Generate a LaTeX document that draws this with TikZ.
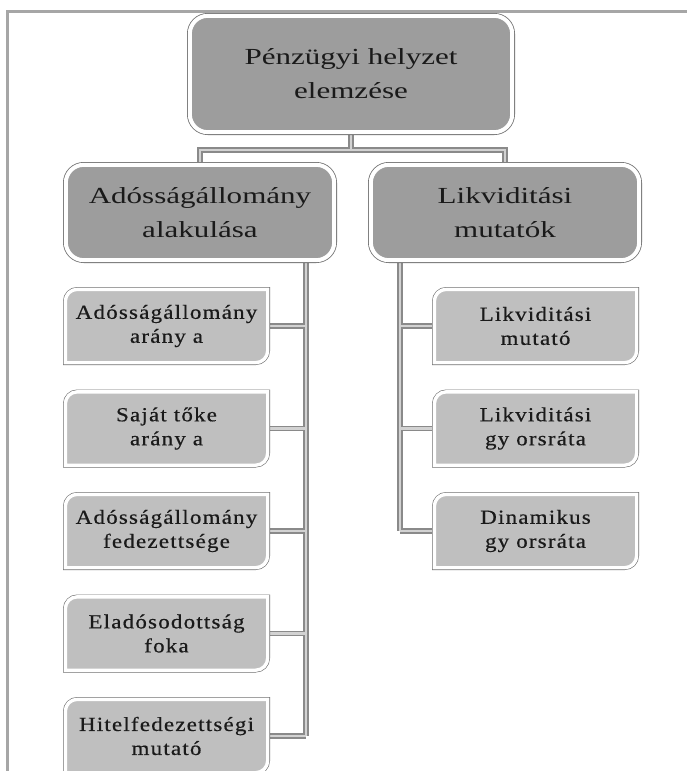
\documentclass[tikz,border=0pt]{standalone}
\usepackage{fontspec}
\setmainfont{Liberation Serif}
\newfontfamily\headfont[FakeStretch=1.35]{Liberation Serif}
\newfontfamily\leaffont[FakeStretch=1.15,LetterSpace=6,FakeBold=0.5]{Liberation Serif}

\definecolor{framegray}{HTML}{A6A6A6}
\definecolor{edgegray}{HTML}{707070}
\definecolor{headfill}{HTML}{9D9D9D}
\definecolor{leaffill}{HTML}{BFBFBF}
\definecolor{connedge}{HTML}{8A8A8A}
\definecolor{connfill}{HTML}{D2D2D2}
\definecolor{textcol}{HTML}{1A1A1A}

\pgfdeclarelayer{conn}
\pgfdeclarelayer{shapes}
\pgfsetlayers{conn,shapes,main}

\tikzset{
  headbox/.style={rounded corners=18pt, fill=headfill, draw=white, line width=4pt,
    preaction={draw=edgegray, line width=5.6pt},
    inner sep=0pt, outer sep=0pt, align=center, text=textcol,
    font=\headfont\fontsize{23}{34}\selectfont},
  leafbox/.style={inner sep=0pt, outer sep=0pt, align=center, text=textcol,
    minimum width=202.4pt, minimum height=73.4pt,
    font=\leaffont\fontsize{20}{24}\selectfont},
  leafdraw/.style={fill=leaffill, draw=white, line width=3.4pt,
    preaction={draw=edgegray, line width=4.6pt}},
  connline/.style={line width=#1, line cap=butt, line join=miter}
}

% box with rounded top-left and bottom-right corners behind a leaf node
\newcommand\leafshape[1]{%
  \path[leafdraw] (#1.south west) [rounded corners=12pt] -- (#1.north west)
    [sharp corners] -- (#1.north east) [rounded corners=12pt] -- (#1.south east)
    [sharp corners] -- cycle;}

\begin{document}
\begin{tikzpicture}[x=1pt,y=-1pt]
\useasboundingbox (0,0) rectangle (687,771);

% page frame
\begin{pgfonlayer}{conn}
  \draw[framegray, line width=2.5pt] (7.5,771) -- (7.5,11.5) -- (687,11.5);
\end{pgfonlayer}

% top level
\node[headbox, minimum width=322.4pt, minimum height=116.4pt] (top) at (351,74)
  {Pénzügyi helyzet\\elemzése};

% second level
\node[headbox, minimum width=268.4pt, minimum height=95.4pt] (debt) at (200,212.5)
  {Adósságállomány\\alakulása};
\node[headbox, minimum width=268.4pt, minimum height=95.4pt] (liq) at (505,212.5)
  {Likviditási\\mutatók};

% indicators of debt
\node[leafbox] (l1) at (166.5,326)   {Adósságállomány\\arány a};
\node[leafbox] (l2) at (166.5,428.5) {Saját tőke\\arány a};
\node[leafbox] (l3) at (166.5,531)   {Adósságállomány\\fedezettsége};
\node[leafbox] (l4) at (166.5,633.5) {Eladósodottság\\foka};
\node[leafbox] (l5) at (166.5,736)   {Hitelfedezettségi\\mutató};

% liquidity indicators
\node[leafbox] (r1) at (535.5,326)   {Likviditási\\mutató};
\node[leafbox] (r2) at (535.5,428.5) {Likviditási\\gy orsráta};
\node[leafbox] (r3) at (535.5,531)   {Dinamikus\\gy orsráta};

\begin{pgfonlayer}{shapes}
  \foreach \n in {l1,l2,l3,l4,l5,r1,r2,r3} {\leafshape{\n}}
\end{pgfonlayer}

% spine positions
\coordinate (bar) at (0,150);
\coordinate (lspine) at (306,0);
\coordinate (rspine) at (400,0);

% connectors: a dark outer stroke, then a light inner stroke
\begin{pgfonlayer}{conn}
  \foreach \w/\c in {5.5pt/connedge, 2.8pt/connfill} {
    \draw[connline=\w, \c] (top.south) -- (top.south |- bar);
    \draw[connline=\w, \c] (debt.north) -- (debt.north |- bar) -- (liq.north |- bar) -- (liq.north);
    \draw[connline=\w, \c] (lspine |- debt.south) -- (lspine |- l5.east);
    \draw[connline=\w, \c] (rspine |- liq.south) -- (rspine |- r3.west);
    \foreach \n in {l1,l2,l3,l4,l5}
      \draw[connline=\w, \c] (\n.east) -- (\n.east -| lspine);
    \foreach \n in {r1,r2,r3}
      \draw[connline=\w, \c] (\n.west) -- (\n.west -| rspine);
  }
\end{pgfonlayer}
\end{tikzpicture}
\end{document}
